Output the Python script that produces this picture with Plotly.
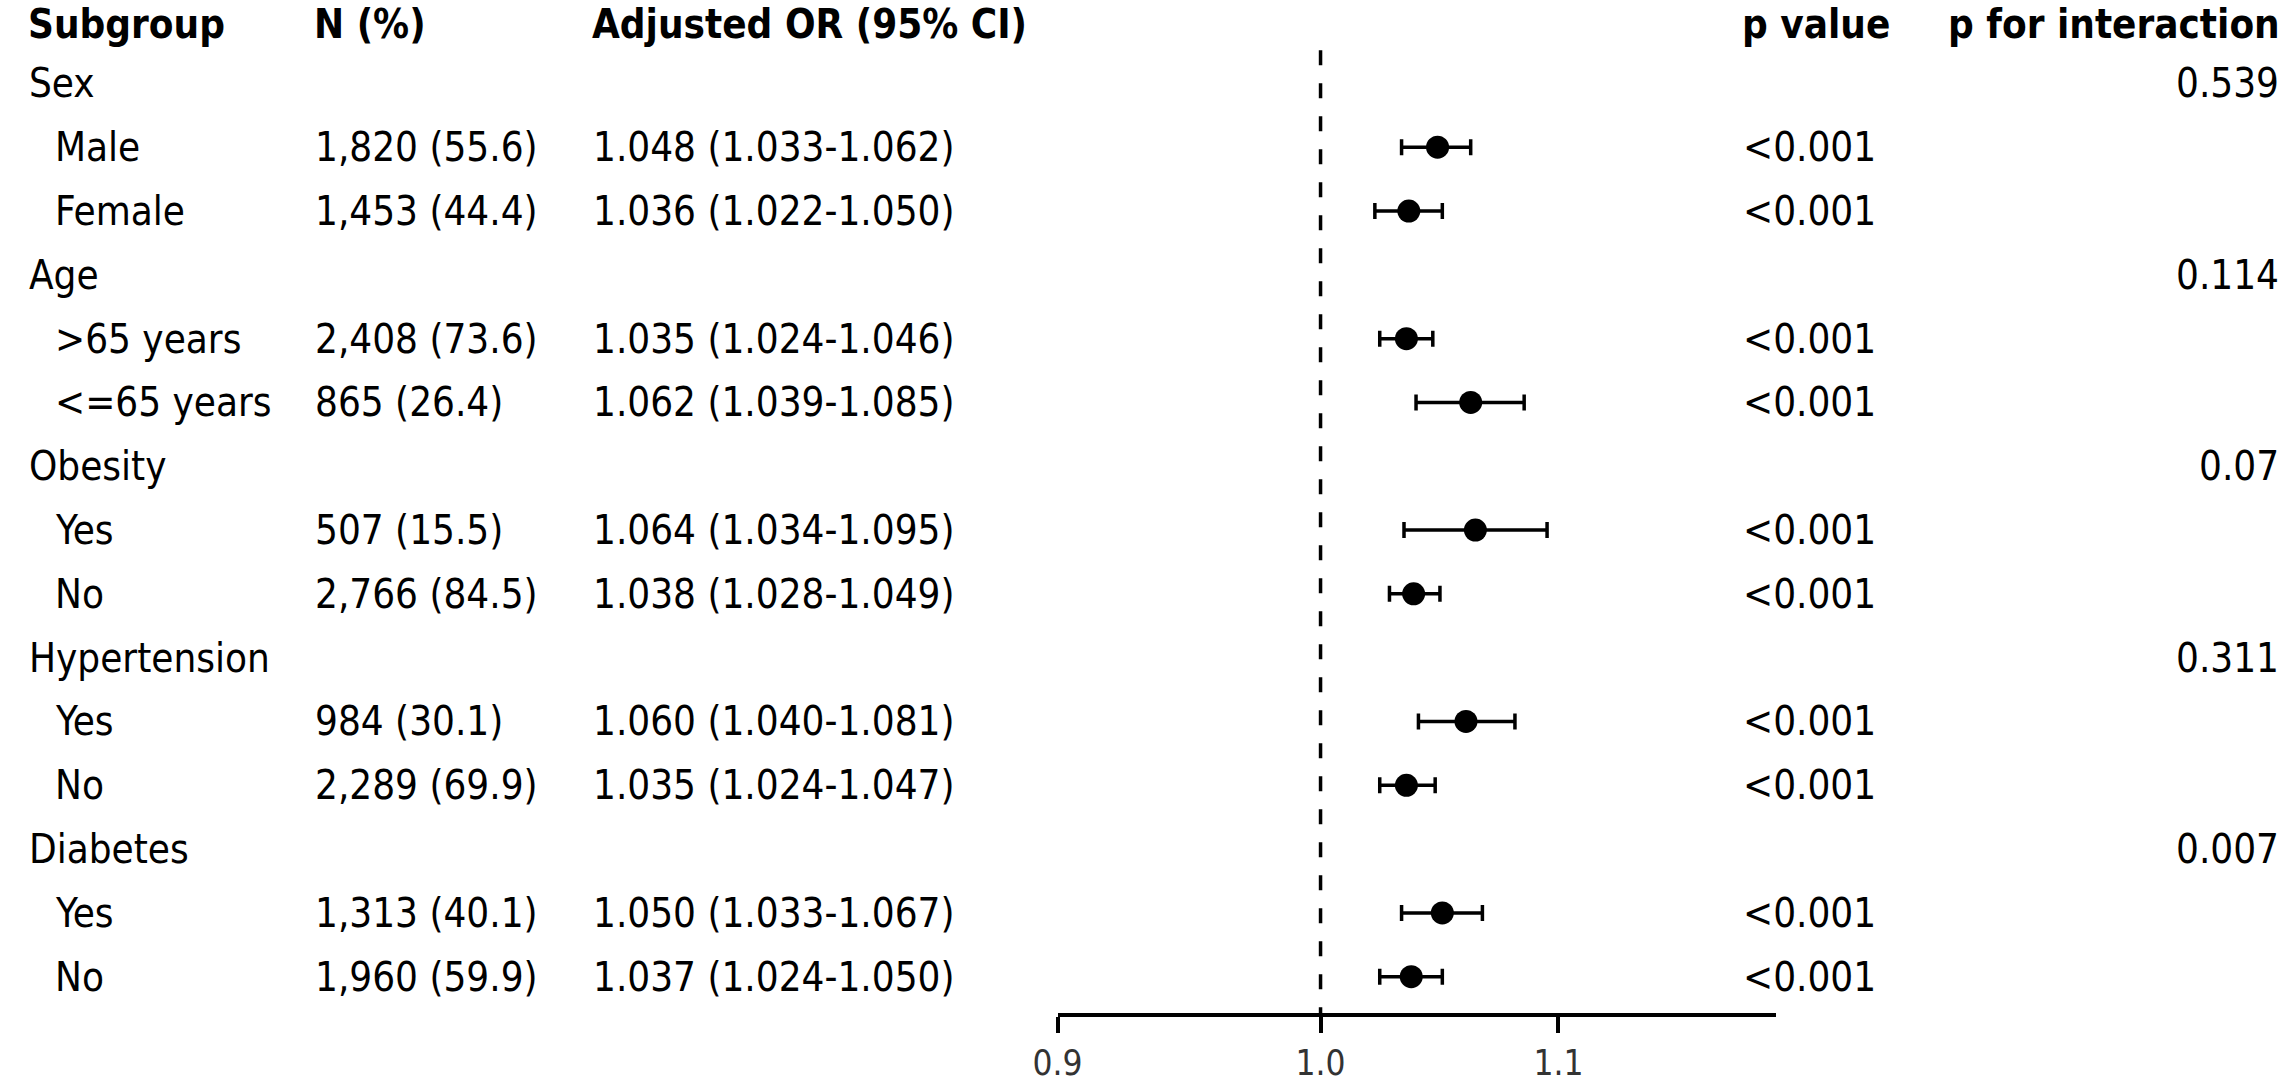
import plotly.graph_objects as go

W, H = 2283, 1083

# table rows (group headers have no estimate)
labels = ["Sex", "Male", "Female", "Age", ">65 years", "<=65 years",
          "Obesity", "Yes", "No", "Hypertension", "Yes", "No",
          "Diabetes", "Yes", "No"]
is_group = [True, False, False, True, False, False, True, False, False,
            True, False, False, True, False, False]
n_pct = ["", "1,820 (55.6)", "1,453 (44.4)", "", "2,408 (73.6)", "865 (26.4)",
         "", "507 (15.5)", "2,766 (84.5)", "", "984 (30.1)", "2,289 (69.9)",
         "", "1,313 (40.1)", "1,960 (59.9)"]
odds = [None, 1.048, 1.036, None, 1.035, 1.062, None, 1.064, 1.038,
        None, 1.060, 1.035, None, 1.050, 1.037]
lower = [None, 1.033, 1.022, None, 1.024, 1.039, None, 1.034, 1.028,
         None, 1.040, 1.024, None, 1.033, 1.024]
upper = [None, 1.062, 1.050, None, 1.046, 1.085, None, 1.095, 1.049,
         None, 1.081, 1.047, None, 1.067, 1.050]
p_value = ["", "<0.001", "<0.001", "", "<0.001", "<0.001", "", "<0.001",
           "<0.001", "", "<0.001", "<0.001", "", "<0.001", "<0.001"]
p_inter = ["0.539", "", "", "0.114", "", "", "0.07", "", "", "0.311", "",
           "", "0.007", "", ""]
headers = ["Subgroup", "N (%)", "Adjusted OR (95% CI)", "p value",
           "p for interaction"]
tick_vals = [0.9, 1.0, 1.1]
tick_text = ["0.9", "1.0", "1.1"]
x_limits = [0.9, 1.2]

FONT = "DejaVu Sans Condensed, DejaVu Sans"
rows = list(range(1, len(labels) + 1))

fig = go.Figure()

est_rows = [r for r, o in zip(rows, odds) if o is not None]
est = [o for o in odds if o is not None]
lo = [o - l for o, l in zip(odds, lower) if o is not None]
hi = [u - o for o, u in zip(odds, upper) if o is not None]

fig.add_trace(go.Scatter(
    x=est, y=est_rows, mode="markers",
    marker=dict(symbol="circle", size=23, color="black"),
    error_x=dict(type="data", array=hi, arrayminus=lo, symmetric=False,
                 color="black", thickness=3.5, width=8),
    showlegend=False, hoverinfo="skip",
))

# reference line at OR = 1
fig.add_shape(type="line", xref="x", yref="y", x0=1.0, x1=1.0,
              y0=0.48, y1=15.57,
              line=dict(color="black", width=3.5, dash="15px,18px"))

col_x = [2, 291, 572, 1735]
ann = []
for i, h in enumerate(headers[:4]):
    ann.append(dict(x=col_x[i] / W, text=f"<b>{h}</b>", xanchor="left"))
ann.append(dict(x=2281 / W, text=f"<b>{headers[4]}</b>", xanchor="right"))
for a in ann:
    a.update(yref="paper", y=1, yanchor="top", borderpad=0)

for r, lab, g, n, o, l, u, p, pi in zip(rows, labels, is_group, n_pct, odds,
                                        lower, upper, p_value, p_inter):
    ann.append(dict(x=(2 if g else 28) / W, y=r, text=lab, xanchor="left"))
    if n:
        ann.append(dict(x=col_x[1] / W, y=r, text=n, xanchor="left"))
    if o is not None:
        ann.append(dict(x=col_x[2] / W, y=r,
                        text=f"{o:.3f} ({l:.3f}-{u:.3f})", xanchor="left"))
    if p:
        ann.append(dict(x=col_x[3] / W, y=r, text=p, xanchor="left"))
    if pi:
        ann.append(dict(x=2281 / W, y=r, text=pi, xanchor="right"))

for a in ann:
    a.setdefault("yref", "y")
    a.setdefault("yanchor", "middle")
    a.update(xref="paper", showarrow=False,
             font=dict(family=FONT, size=40, color="black"))

fig.update_layout(
    width=W, height=H,
    margin=dict(l=0, r=0, t=0, b=51),
    plot_bgcolor="white", paper_bgcolor="white",
    annotations=ann,
    xaxis=dict(
        type="log", range=[-0.045757, 0.0791812],
        domain=[1044 / W, 1770 / W],
        tickvals=tick_vals, ticktext=tick_text,
        ticks="outside", ticklen=16, tickwidth=3.5, tickcolor="black",
        showline=True, linewidth=3.5, linecolor="black",
        showgrid=False, zeroline=False,
        tickfont=dict(family=FONT, size=35, color="#333333"),
    ),
    yaxis=dict(range=[15.569, -0.3077], visible=False, showgrid=False,
               zeroline=False),
)

fig.write_html(
    "out.html",
    config={"displayModeBar": False},
    post_script="document.body.style.margin='0';"
                "document.body.style.overflow='hidden';",
)
